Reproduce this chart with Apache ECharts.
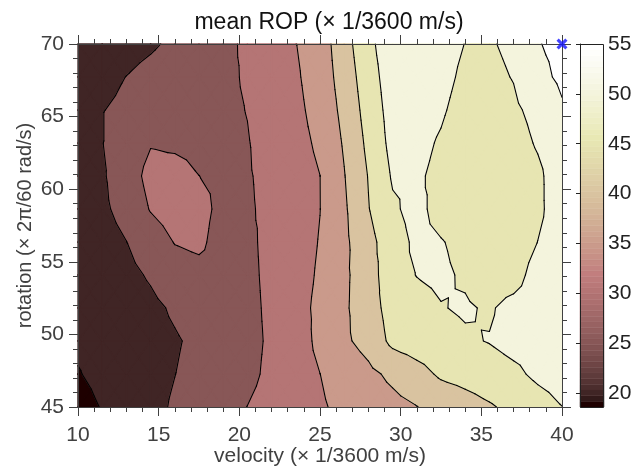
<!DOCTYPE html>
<html>
<head>
<meta charset="utf-8">
<title>mean ROP</title>
<script src="https://cdn.jsdelivr.net/npm/echarts@6/dist/echarts.min.js"></script>
<style>
html, body { margin: 0; padding: 0; background: #fff; }
#chart { width: 633px; height: 466px; }
</style>
</head>
<body>
<div id="chart"></div>
<script>
// grid nodes
var velocity = [10, 11.5, 13, 14.5, 16, 17.5, 19, 20.5, 22, 23.5, 25, 26.5, 28, 29.5, 31, 32.5, 34, 35.5, 37, 38.5, 40];
var rotation = [45, 47.27, 49.55, 51.82, 54.09, 56.36, 58.64, 60.91, 63.18, 65.45, 67.73, 70];

// mean ROP, one row per rotation value (45 at the bottom, 70 at the top)
var rop = [
    [18.6, 20.2, 21.9, 23.8, 25.5, 27.0, 28.5, 30.05, 31.6, 33.1, 34.5, 36.0, 37.3, 38.6, 39.9, 41.5, 43.0, 44.5, 46.2, 48.0, 49.95],
    [19.8, 21.0, 22.3, 23.6, 24.95, 26.3, 27.6, 28.9, 31.0, 33.0, 34.98, 36.8, 38.9, 41.0, 43.2, 45.75, 46.7, 47.8, 49.0, 50.95, 52.0],
    [20.6, 21.3, 22.4, 23.5, 24.6, 25.9, 27.5, 28.7, 30.7, 33.0, 36.0, 39.2, 41.7, 46.2, 47.5, 48.5, 49.4, 50.2, 51.5, 52.0, 52.3],
    [20.5, 21.5, 22.7, 24.0, 25.6, 27.0, 28.0, 28.8, 30.9, 33.6, 35.9, 39.3, 42.8, 47.0, 48.5, 49.8, 50.5, 49.5, 51.5, 52.5, 52.5],
    [21.5, 22.5, 23.8, 25.5, 27.7, 28.4, 28.2, 29.0, 31.05, 33.4, 35.5, 39.2, 42.5, 48.5, 50.1, 50.8, 49.4, 47.5, 48.0, 52.1, 53.0],
    [22.0, 23.3, 24.95, 27.5, 30.2, 31.0, 27.9, 29.2, 31.1, 33.2, 35.2, 39.0, 43.5, 47.8, 51.0, 50.3, 48.5, 46.3, 47.0, 50.05, 52.5],
    [23.0, 24.2, 26.5, 30.3, 32.0, 31.5, 28.7, 29.6, 30.8, 33.0, 34.95, 39.3, 44.8, 49.3, 51.5, 48.0, 46.5, 46.0, 46.5, 49.0, 52.7],
    [23.5, 24.5, 27.5, 31.5, 31.5, 30.02, 29.3, 29.7, 31.0, 33.0, 34.98, 39.8, 45.2, 50.5, 50.6, 48.9, 47.0, 46.5, 47.0, 49.0, 53.0],
    [24.0, 24.9, 27.0, 29.7, 29.3, 29.0, 29.0, 29.8, 31.6, 33.5, 35.8, 40.5, 46.1, 51.5, 51.3, 49.5, 47.0, 46.8, 48.0, 50.5, 53.0],
    [24.0, 24.9, 25.7, 26.6, 27.5, 28.3, 29.2, 30.1, 32.0, 33.9, 36.7, 41.3, 47.0, 52.0, 52.0, 50.6, 48.1, 47.8, 49.2, 51.4, 54.5],
    [23.0, 24.0, 25.05, 26.1, 27.1, 28.1, 29.2, 30.4, 32.4, 34.4, 37.3, 42.1, 47.9, 52.5, 53.0, 51.5, 49.0, 48.9, 50.2, 53.8, 55.8],
    [22.0, 22.9, 23.7, 24.5, 25.7, 27.3, 29.0, 30.7, 32.8, 34.9, 37.5, 43.0, 48.8, 53.0, 53.0, 52.0, 49.9, 49.6, 50.9, 54.8, 56.0]
];

var levels = [20, 25, 30, 35, 40, 45, 50, 55];
var colorTicks = [20, 25, 30, 35, 40, 45, 50, 55];
var colorLimits = [18.6, 55];
var maxPoint = [[40, 70]];

var axisColor = '#404040';
var font = "'Liberation Sans', Arial, sans-serif";

// matlab pink colormap, 64 steps
function pinkColor(v) {
    var m = 64, n = 24;
    var k = Math.floor((v - colorLimits[0]) / (colorLimits[1] - colorLimits[0]) * m);
    k = Math.max(0, Math.min(m - 1, k));
    var gray = k / (m - 1);
    var hr = k < n ? (k + 1) / n : 1;
    var hg = k < n ? 0 : (k < 2 * n ? (k + 1 - n) / n : 1);
    var hb = k < 2 * n ? 0 : (k + 1 - 2 * n) / (m - 2 * n);
    function c(h) { return Math.round(255 * Math.sqrt((2 * gray + h) / 3)); }
    return 'rgb(' + c(hr) + ',' + c(hg) + ',' + c(hb) + ')';
}

// fill colour of each band: below the first level, then from each level up
var bandColors = [pinkColor(colorLimits[0])].concat(levels.map(pinkColor));
var bounds = [-Infinity].concat(levels).concat([Infinity]);

function node(i, j) {
    return [velocity[i], rotation[j], rop[j][i]];
}

// 4 triangles per cell around the centre
function cellTriangles(i, j) {
    var a = node(i, j), b = node(i + 1, j), c = node(i + 1, j + 1), d = node(i, j + 1);
    var e = [(a[0] + b[0]) / 2, (a[1] + d[1]) / 2, (a[2] + b[2] + c[2] + d[2]) / 4];
    return [[a, b, e], [b, c, e], [c, d, e], [d, a, e]];
}

function clipPoly(pts, lev, keepAbove) {
    var out = [];
    for (var k = 0; k < pts.length; k++) {
        var p = pts[k], q = pts[(k + 1) % pts.length];
        var pin = keepAbove ? p[2] >= lev : p[2] <= lev;
        var qin = keepAbove ? q[2] >= lev : q[2] <= lev;
        if (pin) out.push(p);
        if (pin !== qin) {
            var t = (lev - p[2]) / (q[2] - p[2]);
            out.push([p[0] + t * (q[0] - p[0]), p[1] + t * (q[1] - p[1]), lev]);
        }
    }
    return out;
}

function renderFill(params, api) {
    var tris = cellTriangles(api.value(2), api.value(3));
    var children = [];
    tris.forEach(function (tri) {
        var lo = Math.min(tri[0][2], tri[1][2], tri[2][2]);
        var hi = Math.max(tri[0][2], tri[1][2], tri[2][2]);
        for (var b = 0; b < bounds.length - 1; b++) {
            if (hi < bounds[b] || lo > bounds[b + 1]) continue;
            var poly = tri;
            if (b > 0) poly = clipPoly(poly, bounds[b], true);
            if (poly.length < 3) continue;
            if (b < bounds.length - 2) poly = clipPoly(poly, bounds[b + 1], false);
            if (poly.length < 3) continue;
            children.push({
                type: 'polygon',
                silent: true,
                shape: { points: poly.map(function (p) { return api.coord([p[0], p[1]]); }) },
                style: { fill: bandColors[b], stroke: bandColors[b], lineWidth: 1.3, lineJoin: 'round' }
            });
        }
    });
    return { type: 'group', children: children };
}

function renderLines(params, api) {
    var tris = cellTriangles(api.value(2), api.value(3));
    var children = [];
    tris.forEach(function (tri) {
        levels.forEach(function (lev) {
            var pts = [];
            for (var k = 0; k < 3; k++) {
                var p = tri[k], q = tri[(k + 1) % 3];
                if ((p[2] >= lev) !== (q[2] >= lev)) {
                    var t = (lev - p[2]) / (q[2] - p[2]);
                    pts.push(api.coord([p[0] + t * (q[0] - p[0]), p[1] + t * (q[1] - p[1])]));
                }
            }
            if (pts.length === 2) {
                children.push({
                    type: 'line',
                    silent: true,
                    shape: { x1: pts[0][0], y1: pts[0][1], x2: pts[1][0], y2: pts[1][1] },
                    style: { stroke: '#000', lineWidth: 1.1, lineCap: 'round' }
                });
            }
        });
    });
    return { type: 'group', children: children };
}

var cells = [];
for (var j = 0; j < rotation.length - 1; j++) {
    for (var i = 0; i < velocity.length - 1; i++) {
        cells.push([velocity[i], rotation[j], i, j]);
    }
}

// colour bar steps
var barSteps = [];
var step = (colorLimits[1] - colorLimits[0]) / 64;
for (var k = 0; k < 64; k++) {
    barSteps.push([0.5, colorLimits[0] + k * step, colorLimits[0] + (k + 1) * step]);
}

function frameAxis(pos, opt) {
    var a = {
        gridIndex: 0,
        type: 'value',
        position: pos,
        z: 10,
        axisLine: { show: true, onZero: false, lineStyle: { color: axisColor, width: 1 } },
        axisTick: { show: true, inside: false, length: 9, lineStyle: { color: axisColor } },
        minorTick: { show: true, splitNumber: 5, length: 5, lineStyle: { color: axisColor } },
        axisLabel: { show: false },
        splitLine: { show: false }
    };
    for (var key in opt) a[key] = opt[key];
    return a;
}

var chart = echarts.init(document.getElementById('chart'));
chart.setOption({
    animation: false,
    title: {
        text: 'mean ROP (× 1/3600 m/s)',
        left: 324,
        top: 6,
        textAlign: 'center',
        textStyle: { fontSize: 23, fontWeight: 'normal', color: '#111', fontFamily: font }
    },
    grid: [
        { left: 78, top: 44, width: 484, height: 363, outerBoundsMode: 'none' },
        { left: 580, top: 44, width: 24, height: 363, outerBoundsMode: 'none' }
    ],
    xAxis: [
        frameAxis('bottom', {
            min: 10, max: 40, interval: 5,
            axisLabel: { show: true, fontSize: 21, color: axisColor, fontFamily: font, margin: 18 },
            name: 'velocity (× 1/3600 m/s)',
            nameLocation: 'middle',
            nameGap: 39,
            nameMoveOverlap: false,
            nameTextStyle: { fontSize: 21, color: axisColor, fontFamily: font }
        }),
        frameAxis('top', { min: 10, max: 40, interval: 5 }),
        { gridIndex: 1, type: 'value', min: 0, max: 1, show: false }
    ],
    yAxis: [
        frameAxis('left', {
            min: 45, max: 70, interval: 5,
            axisLabel: { show: true, fontSize: 21, color: axisColor, fontFamily: font, margin: 14 },
            name: 'rotation (× 2π/60 rad/s)',
            nameLocation: 'middle',
            nameGap: 43,
            nameMoveOverlap: false,
            nameTextStyle: { fontSize: 20, color: axisColor, fontFamily: font }
        }),
        frameAxis('right', { min: 45, max: 70, interval: 5 }),
        {
            gridIndex: 1,
            type: 'value',
            position: 'right',
            min: colorLimits[0],
            max: colorLimits[1],
            z: 10,
            axisLine: { show: true, lineStyle: { color: '#222' } },
            axisTick: { show: true, inside: true, length: 4, customValues: colorTicks, lineStyle: { color: '#222' } },
            axisLabel: { show: true, customValues: colorTicks, fontSize: 21, color: '#222', fontFamily: font, margin: 4 },
            splitLine: { show: false }
        }
    ],
    series: [
        {
            type: 'custom',
            coordinateSystem: 'cartesian2d',
            xAxisIndex: 0, yAxisIndex: 0,
            silent: true,
            z: 2,
            data: cells,
            renderItem: renderFill
        },
        {
            type: 'custom',
            coordinateSystem: 'cartesian2d',
            xAxisIndex: 0, yAxisIndex: 0,
            silent: true,
            z: 3,
            data: cells,
            renderItem: renderLines
        },
        {
            type: 'scatter',
            xAxisIndex: 0, yAxisIndex: 0,
            symbol: 'path://M0,2L2,0L5,3L8,0L10,2L7,5L10,8L8,10L5,7L2,10L0,8L3,5Z',
            symbolSize: 11,
            clip: false,
            z: 12,
            itemStyle: { color: '#1414ff' },
            data: maxPoint
        },
        {
            type: 'custom',
            coordinateSystem: 'cartesian2d',
            xAxisIndex: 2, yAxisIndex: 2,
            silent: true,
            z: 2,
            data: barSteps,
            renderItem: function (params, api) {
                var p0 = api.coord([0, api.value(1)]);
                var p1 = api.coord([1, api.value(2)]);
                var col = pinkColor((api.value(1) + api.value(2)) / 2);
                return {
                    type: 'rect',
                    shape: { x: p0[0], y: p1[1], width: p1[0] - p0[0], height: p0[1] - p1[1] },
                    style: { fill: col, stroke: col, lineWidth: 0.5 }
                };
            }
        },
        {
            type: 'custom',
            coordinateSystem: 'cartesian2d',
            xAxisIndex: 2, yAxisIndex: 2,
            silent: true,
            z: 4,
            data: [[0.5, colorLimits[0]]],
            renderItem: function (params, api) {
                var p0 = api.coord([0, colorLimits[0]]);
                var p1 = api.coord([1, colorLimits[1]]);
                return {
                    type: 'rect',
                    shape: { x: Math.round(p0[0]) + 0.5, y: Math.round(p1[1]) + 0.5, width: Math.round(p1[0] - p0[0]) - 1, height: Math.round(p0[1] - p1[1]) },
                    style: { fill: 'none', stroke: '#222', lineWidth: 1 }
                };
            }
        }
    ]
});
</script>
</body>
</html>
